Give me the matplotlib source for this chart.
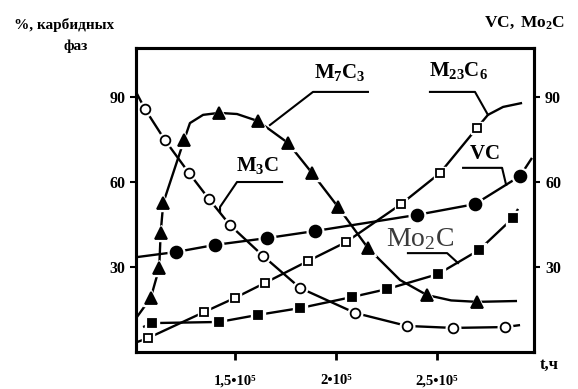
import matplotlib
matplotlib.use("Agg")
import matplotlib.pyplot as plt

plt.rcParams['mathtext.fontset'] = 'custom'
plt.rcParams['mathtext.rm'] = 'Liberation Serif'
plt.rcParams['mathtext.bf'] = 'Liberation Serif:bold'
plt.rcParams['mathtext.it'] = 'Liberation Serif:italic'
SERIF = ['Liberation Serif', 'DejaVu Serif']

# ---- data (time in units of 10^5 h, content in %) ----
m3c_x = [1.054, 1.153, 1.272, 1.371, 1.475, 1.639, 1.822, 2.094, 2.351, 2.579, 2.837]
m3c_y = [85.8, 74.8, 63.2, 54.0, 44.8, 33.9, 22.6, 13.8, 9.2, 8.5, 8.8]
m3c_curve_x = [1.010] + m3c_x + [2.911]
m3c_curve_y = [91.8] + m3c_y + [9.5]

m7c3_x = [1.083, 1.125, 1.132, 1.145, 1.248, 1.421, 1.614, 1.762, 1.881, 2.010, 2.158, 2.450, 2.698]
m7c3_y = [19.1, 29.7, 42.0, 52.6, 74.8, 84.4, 81.5, 73.8, 63.2, 51.2, 36.7, 20.1, 17.7]
m7c3_curve_x = [1.015, 1.083, 1.125, 1.132, 1.145, 1.248, 1.277, 1.342, 1.421, 1.510, 1.614,
                1.762, 1.881, 2.010, 2.158, 2.317, 2.450, 2.570, 2.698, 2.896]
m7c3_curve_y = [12.4, 19.1, 29.7, 42.0, 52.6, 74.8, 80.8, 83.7, 84.4, 84.0, 81.5,
                73.8, 63.2, 51.2, 36.7, 25.4, 20.1, 18.2, 17.7, 18.0]

vc_x = [1.208, 1.401, 1.658, 1.896, 2.401, 2.688, 2.911]
vc_y = [35.3, 37.8, 40.2, 42.7, 48.4, 52.2, 62.1]
vc_curve_x = [1.015] + vc_x + [2.970]
vc_curve_y = [33.5] + vc_y + [68.5]

m23c6_x = [1.069, 1.347, 1.500, 1.649, 1.861, 2.050, 2.322, 2.515, 2.698]
m23c6_y = [4.9, 14.1, 19.1, 24.4, 32.1, 38.8, 52.2, 63.2, 79.1]
m23c6_curve_x = [1.015] + m23c6_x + [2.752, 2.827, 2.921]
m23c6_curve_y = [3.5] + m23c6_y + [83.7, 86.5, 87.9]

mo2c_x = [1.089, 1.421, 1.614, 1.822, 2.079, 2.252, 2.505, 2.708, 2.876]
mo2c_y = [10.2, 10.6, 13.1, 15.5, 19.4, 22.2, 27.5, 36.0, 47.3]
mo2c_curve_x = [1.045] + mo2c_x + [2.901]
mo2c_curve_y = [8.8] + mo2c_y + [50.5]

x_ticks = [1.5, 2.0, 2.5]
x_tick_labels = ['1,5•10⁵', '2•10⁵', '2,5•10⁵']
y_ticks = [30, 60, 90]
y_tick_labels = ['30', '60', '90']

W, H = 578, 389
fig = plt.figure(figsize=(W / 100, H / 100), dpi=100)
ax = fig.add_axes([136 / W, 1 - 352 / H, (534 - 136) / W, (352 - 48) / H])
ax.set_xlim(1.010, 2.980)
ax.set_ylim(0, 107.3)

series = [
    (m3c_curve_x, m3c_curve_y, m3c_x, m3c_y, 'o', 7.0, 'white'),
    (m7c3_curve_x, m7c3_curve_y, m7c3_x, m7c3_y, '^', 8.0, 'black'),
    (vc_curve_x, vc_curve_y, vc_x, vc_y, 'o', 8.5, 'black'),
    (m23c6_curve_x, m23c6_curve_y, m23c6_x, m23c6_y, 's', 5.5, 'white'),
    (mo2c_curve_x, mo2c_curve_y, mo2c_x, mo2c_y, 's', 6.0, 'black'),
]
for cx, cy, mx, my, mk, ms, fc in series:
    ax.plot(cx, cy, color='black', lw=1.7, zorder=2, solid_capstyle='butt')
for cx, cy, mx, my, mk, ms, fc in series:
    ax.plot(mx, my, ls='none', marker=mk, ms=ms + 3.5, mfc='white', mec='white', zorder=3)
for cx, cy, mx, my, mk, ms, fc in series:
    ax.plot(mx, my, ls='none', marker=mk, ms=ms, mfc=fc, mec='black', mew=1.3, zorder=4)

for s in ax.spines.values():
    s.set_linewidth(2.2)

ax.set_xticks(x_ticks)
ax.set_xticklabels(x_tick_labels, fontfamily=SERIF, fontweight='bold', fontsize=10.5)
ax.set_yticks(y_ticks)
ax.set_yticklabels(y_tick_labels, fontfamily=SERIF, fontweight='bold', fontsize=11.5)
ax.tick_params(axis='x', direction='out', length=6, width=2, pad=10)
ax.tick_params(axis='y', direction='out', length=4.5, width=1.5, pad=3)

ax2 = ax.twinx()
ax2.set_ylim(ax.get_ylim())
ax2.set_yticks(y_ticks)
ax2.set_yticklabels(y_tick_labels, fontfamily=SERIF, fontweight='bold', fontsize=11.5)
ax2.tick_params(axis='y', direction='out', length=4, width=1.5, pad=4)
for s in ax2.spines.values():
    s.set_linewidth(2.2)

# curve labels with leader lines
lab_kw = dict(ha='center', va='center', fontsize=15, color='black', zorder=6)
ax.text(2.020, 98.8, r'$\mathbf{M_7C_3}$', **lab_kw)
ax.plot([2.158, 1.886, 1.673], [91.8, 91.8, 80.1], color='black', lw=1.5)
ax.text(2.609, 99.2, r'$\mathbf{M_{23}C_6}$', **lab_kw)
ax.plot([2.465, 2.688, 2.752], [91.8, 91.8, 83.7], color='black', lw=1.5)
ax.text(2.733, 70.2, r'$\mathbf{VC}$', **lab_kw)
ax.plot([2.629, 2.822, 2.842], [65.0, 65.0, 59.0], color='black', lw=1.5)
ax.text(1.614, 66.0, r'$\mathbf{M_3C}$', **lab_kw)
ax.plot([1.733, 1.510, 1.426, 1.426], [60.0, 60.0, 51.2, 49.4], color='black', lw=1.5)
ax.text(2.416, 40.2, r'$\mathrm{Mo_2C}$', ha='center', va='center', fontsize=20,
        color='#3a3a3a', zorder=6)
ax.plot([2.356, 2.550, 2.604], [34.9, 34.9, 31.4], color='black', lw=1.5)

# axis captions
fig.text(64 / W, 1 - 25 / H, '%, карбидных', ha='center', va='center',
         fontfamily=SERIF, fontweight='bold', fontsize=11)
fig.text(76 / W, 1 - 46 / H, 'фаз', ha='center', va='center',
         fontfamily=SERIF, fontweight='bold', fontsize=11)
fig.text(525 / W, 1 - 22 / H, r'$\mathbf{VC,\ Mo_2C}$', ha='center', va='center',
         fontsize=12.5)
fig.text(549 / W, 1 - 365 / H, 't,ч', ha='center', va='center',
         fontfamily=SERIF, fontweight='bold', fontsize=12)

fig.savefig('out.png', dpi=100)
